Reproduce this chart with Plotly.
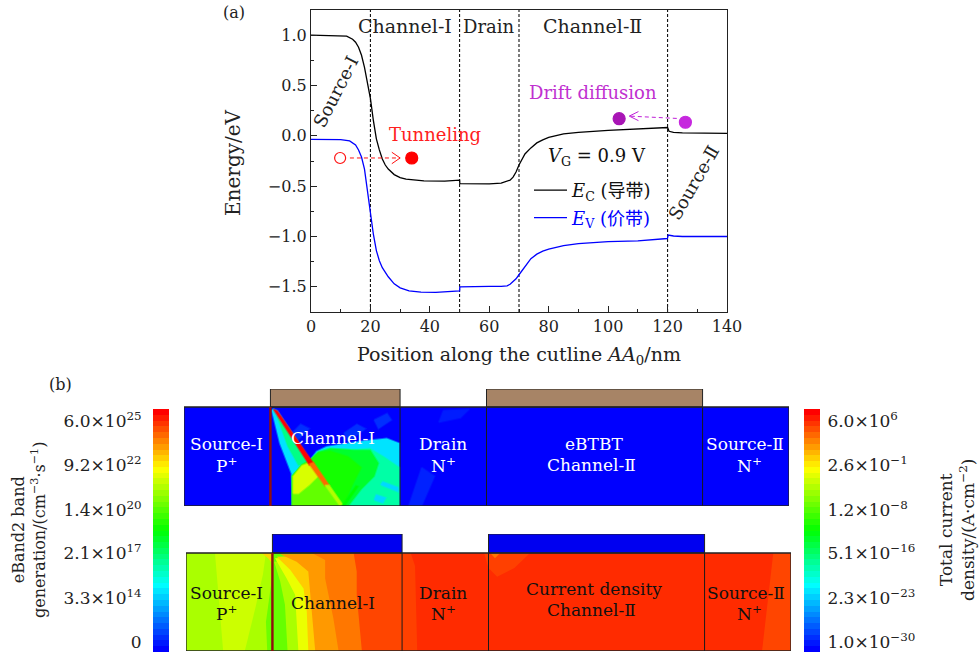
import plotly.graph_objects as go
from plotly.colors import sample_colorscale

W, H = 980, 657
SERIF = "'DejaVu Serif','Noto Sans CJK SC',serif"
INK = "#222222"

# ---------- panel (a): band diagram ----------
ec_x = [0,10,12,14,15,16,17,18,19,20,21,22,23,24,25,26,28,30,32,35,38,45,49.9,50,50.1,55,60,64,66,67,68,69,70,71,72,74,76,78,80,85,90,100,110,115,119.9,120,120.5,122,125,130,140]
ec_y = [1.0,.995,.99,.96,.93,.88,.80,.68,.54,.37,.15,-.03,-.14,-.23,-.29,-.33,-.385,-.415,-.43,-.44,-.447,-.45,-.447,-.44,-.475,-.475,-.478,-.47,-.455,-.44,-.41,-.36,-.29,-.23,-.18,-.12,-.07,-.04,-.015,.02,.035,.055,.07,.075,.088,.083,.045,.035,.03,.027,.025]
ev_x = [0,10,13,15,16,17,18,19,20,21,22,23,24,25,26,28,30,33,37,42,49.9,50,50.1,55,60,64,66,67,68,69,70,71,72,73,74,76,78,80,85,90,100,110,115,119.9,120,120.2,122,125,140]
ev_y = [-.035,-.038,-.05,-.09,-.14,-.21,-.33,-.55,-.76,-.98,-1.14,-1.24,-1.31,-1.36,-1.40,-1.47,-1.51,-1.54,-1.553,-1.555,-1.545,-1.54,-1.50,-1.495,-1.495,-1.495,-1.49,-1.475,-1.45,-1.42,-1.38,-1.34,-1.29,-1.25,-1.22,-1.175,-1.145,-1.126,-1.09,-1.07,-1.05,-1.043,-1.035,-1.02,-1.015,-.985,-.995,-1.0,-1.0]
region_edges = [20, 50, 70, 120]

tunnel_x, tunnel_y = [13.1, 30], [-.22, -.22]
tunnel_head_x, tunnel_head_y = [27.2, 30, 27.2], [-.163, -.22, -.277]
tunnel_open, tunnel_full = (9.8, -.22), (33.9, -.22)
drift_x, drift_y = [123.1, 107.1], [.173, .196]
drift_head_x, drift_head_y = [110.2, 107.1, 110.2], [.241, .196, .151]
drift_full, drift_light = (103.7, .17), (126, .135)

# ---------- panel (b): device maps, coordinates in nm, levels are colour-bar fractions ----------
device_edges = [0, 20, 50, 70, 120, 140]
gate_spans = [(20, 50), (70, 120)]
bar_levels = [i / 41 for i in range(42)]

left_ticks = ["6.0×10<sup>25</sup>", "9.2×10<sup>22</sup>", "1.4×10<sup>20</sup>", "2.1×10<sup>17</sup>", "3.3×10<sup>14</sup>", "0"]
right_ticks = ["6.0×10<sup>6</sup>", "2.6×10<sup>−1</sup>", "1.2×10<sup>−8</sup>", "5.1×10<sup>−16</sup>", "2.3×10<sup>−23</sup>", "1.0×10<sup>−30</sup>"]
tick_fractions = [.951, .770, .584, .407, .222, .041]

# upper map (eBand2 generation)
top_base = (0.0, [0, 140, 140, 0], [0, 0, 22.9, 22.9])
top_patches = [
    (0.035, [55, 58, 55, 52], [14, 16, 22.9, 22.9]),
    (0.03, [60, 66, 64, 59], [.8, .5, 2.5, 3.5]),
    (0.05, [25, 27, 29, 26], [6, 4, 5, 8]),
    (0.05, [37, 40, 42, 38], [6, 4, 5, 8]),
    (0.05, [44, 47, 48, 45], [3, 1.5, 3, 5]),
    (0.24, [20.3, 22.2, 24.9, 25.1, 49.8, 49.8, 46.9, 40.8, 33, 30.7, 29.2, 21.6, 20.7],
           [.7, 8.4, 15.4, 22.9, 22.9, 8.4, 7.3, 8, 9.2, 10.3, 12.3, .9, .5]),
    (0.38, [21.5, 24, 26.5, 29, 25], [2, 9, 13.5, 13, 7]),
    (0.35, [25.1, 25.1, 27.3, 29.2, 31.1, 33.8, 40, 43, 46.2, 48.5, 49.8, 49.8],
           [22.9, 16, 13.4, 12.3, 10.4, 9.6, 9.8, 9.6, 11.5, 13, 14, 22.9]),
    (0.23, [44, 46, 46.7, 44.5], [21.5, 22.2, 21, 20.3]),
    (0.23, [45.5, 49.6, 49.6, 46], [18, 19.6, 18.6, 17.3]),
    (0.46, [25.1, 25.1, 27.3, 29.2, 31.1, 33.8, 39.2, 43.1, 45, 44, 41, 38],
           [22.9, 16, 13.4, 12.3, 10.4, 9.6, 10, 10, 13, 16, 19, 22.9]),
    (0.52, [25.1, 25.1, 27.3, 29.2, 31.1, 33.8, 38, 41, 39, 36.9],
           [22.9, 16, 13.4, 12.3, 10.6, 10.2, 11.5, 14, 18, 22.9]),
    (0.60, [25.1, 25.1, 27.3, 29.2, 33.4, 36.9], [22.9, 16, 13.4, 12.5, 18, 22.9]),
    (0.72, [25.3, 25.3, 27.3, 29.0, 31, 29, 26.5], [20, 16.1, 13.6, 13, 16, 18, 20]),
    (1.0,  [20.7, 21.6, 29.95, 29], [.54, .93, 13, 13.4]),
    (0.90, [29, 29.95, 33.6, 32.65], [13.2, 12.8, 18.1, 18.3]),
    (0.68, [32.65, 33.6, 36.9, 36.1], [18.1, 18.1, 22.9, 22.9]),
    (0.50, [36.5, 37.2, 40.3, 39.8], [22.9, 22.9, 18.4, 18.2]),
]

# lower map (total current density)
low_patches = [
    (0.673, [0, 20, 20, 0], [0, 0, 22.7, 22.7]),
    (0.708, [6.7, 18.5, 17.8, 16, 13.6, 8.6], [0, 0, 5, 13, 22.7, 22.7]),
    (0.61,  [20, 19.3, 18.5, 18.8, 20], [5, 10, 16, 22.7, 22.7]),
    (0.80,  [17.5, 20, 20, 19], [0, 0, 2.5, 1.2]),
    (0.604, [20, 50, 50, 20], [0, 0, 22.7, 22.7]),
    (0.673, [20.4, 21.8, 22.9, 23.15, 23.5, 50, 50], [2, 6.6, 12, 18.2, 22.7, 22.7, 0]),
    (0.74,  [20.6, 23.3, 25.25, 25.6, 26, 50, 50], [1.2, 5.9, 9.7, 15.1, 22.7, 22.7, 0]),
    (0.808, [21, 24.1, 27.2, 27.95, 28.3, 50, 50], [.85, 3.9, 8.2, 13.6, 22.7, 22.7, 0]),
    (0.856, [21.8, 25.6, 28.3, 29.1, 29.9, 50, 50], [.3, 2, 4.3, 13.6, 22.7, 22.7, 0]),
    (0.888, [29.1, 32.2, 32.2, 34.1, 35.3, 50, 50], [0, 1.6, 5.9, 15.1, 22.7, 22.7, 0]),
    (0.935, [38.8, 39.5, 39.5, 40.7, 50, 50], [0, 4.3, 9.7, 22.7, 22.7, 0]),
    (0.96,  [50, 140, 140, 50], [0, 0, 22.7, 22.7]),
    (0.94,  [50, 52, 53, 53.5, 50], [0, 0, 3, 22.7, 22.7]),
    (0.94,  [69, 79.6, 76, 72, 70], [0, 0, 3.5, 5.5, 3.5]),
    (0.89,  [70.4, 72.7, 71.5], [0, 0, 1.2]),
    (0.935, [135.9, 140, 140, 133.3], [0, 0, 22.7, 22.7]),
]

RAINBOW = [[0, "#0000ff"], [.27, "#00ffff"], [.5, "#00ff00"], [.76, "#ffff00"], [1, "#ff0000"]]


def dom_x(l, r):
    return [l / W, r / W]


def dom_y(t, b):
    return [1 - b / H, 1 - t / H]


fig = go.Figure()


def line(x, y, color, width=1.2, dash=None, xa="x", ya="y", name=None, legend=False, group=None):
    fig.add_trace(go.Scatter(x=x, y=y, mode="lines", line=dict(color=color, width=width, dash=dash),
                             xaxis=xa, yaxis=ya, name=name, showlegend=legend, legendgroup=group,
                             hoverinfo="skip", cliponaxis=False))


def dot(pt, symbol, color, size):
    fig.add_trace(go.Scatter(x=[pt[0]], y=[pt[1]], mode="markers", showlegend=False, hoverinfo="skip",
                             marker=dict(symbol=symbol, color=color, size=size, line=dict(color=color, width=1.2)),
                             xaxis="x", yaxis="y"))


for e in region_edges:
    line([e, e], [-1.75, 1.25], "#111111", 1.1, "3px,2px")
line(ec_x, ec_y, "#000000", 1.3, name="<i>E</i><sub>C</sub> (导带)", legend=True, group="c")
line(ev_x, ev_y, "#0000ff", 1.3, name='<span style="color:#0000ff"><i>E</i><sub>V</sub> (价带)</span>', legend=True, group="v")
line(tunnel_x, tunnel_y, "#ff1010", 1, "4px,3px")
line(tunnel_head_x, tunnel_head_y, "#ff1010", 1)
line(drift_x, drift_y, "#c020d8", 1, "4px,3px")
line(drift_head_x, drift_head_y, "#c020d8", 1)
dot(tunnel_open, "circle-open", "#ff1010", 11)
dot(tunnel_full, "circle", "#ff0000", 12)
dot(drift_full, "circle", "#a815b5", 12)
dot(drift_light, "circle", "#c628de", 12)


def paint(patches, xa, ya, soft=0):
    for level, xs, ys in patches:
        c = sample_colorscale(RAINBOW, [level])[0]
        edge = c.replace("rgb(", "rgba(").replace(")", ",0.45)")
        fig.add_trace(go.Scatter(x=xs + xs[:1], y=ys + ys[:1], mode="lines", fill="toself", fillcolor=c,
                                 line=dict(width=soft, color=edge), xaxis=xa, yaxis=ya,
                                 showlegend=False, hoverinfo="skip"))


def device(xa, ya, depth, top, gate_color):
    for a, b in gate_spans:
        fig.add_trace(go.Scatter(x=[a, b, b, a, a], y=[0, 0, top, top, 0], mode="lines", fill="toself",
                                 fillcolor=gate_color, line=dict(color="#222222", width=1),
                                 xaxis=xa, yaxis=ya, showlegend=False, hoverinfo="skip", cliponaxis=False))
    for e in device_edges[1:-1]:
        line([e, e], [0, depth], "#1a1a1a", 1, xa=xa, ya=ya)
    line([0, 140, 140, 0, 0], [0, 0, depth, depth, 0], "#222222", 1.3, xa=xa, ya=ya)
    line([20, 20], [0, depth], "#8f0f0f", 2.4, xa=xa, ya=ya)


paint([top_base], "x2", "y2")
paint(top_patches, "x2", "y2", soft=2)
device("x2", "y2", 22.9, -4.17, "#a78466")
paint(low_patches, "x3", "y3")
device("x3", "y3", 22.7, -4.4, "#0000f0")

for xa, ya in (("x4", "y4"), ("x5", "y5")):
    fig.add_trace(go.Heatmap(z=[[v] for v in bar_levels],
                             y=[(i + .5) / len(bar_levels) for i in range(len(bar_levels))],
                             x=[0], zmin=0, zmax=1, colorscale=RAINBOW, showscale=False,
                             xaxis=xa, yaxis=ya, hoverinfo="skip"))

hidden = dict(visible=False, fixedrange=True)
tick_font = dict(family=SERIF, size=16, color=INK)
bar_font = dict(family=SERIF, size=17, color=INK)
fig.update_layout(
    width=W, height=H, margin=dict(l=0, r=0, t=0, b=0, autoexpand=False), paper_bgcolor="white", plot_bgcolor="white",
    font=dict(family=SERIF, size=15, color=INK),
    showlegend=True,
    legend=dict(x=529 / W, y=1 - 172 / H, xanchor="left", yanchor="top", bgcolor="rgba(0,0,0,0)",
                font=dict(family=SERIF, size=18, color="#111111"), tracegroupgap=1, itemwidth=33),
    xaxis=dict(domain=dom_x(311, 727), range=[0, 140], anchor="y", dtick=20, tick0=0, ticks="inside", ticklen=6,
               showline=True, mirror=True, linecolor=INK, linewidth=1.2, tickcolor=INK, showgrid=False, zeroline=False,
               minor=dict(dtick=10, ticks="inside", ticklen=3, tickcolor=INK), tickfont=tick_font, automargin=False),
    yaxis=dict(domain=dom_y(10, 312), range=[-1.75, 1.25], anchor="x", dtick=.5, tick0=0, ticks="inside", ticklen=6,
               tickformat=".1f", showline=True, mirror=True, linecolor=INK, linewidth=1.2, tickcolor=INK,
               showgrid=False, zeroline=False, minor=dict(dtick=.25, ticks="inside", ticklen=3, tickcolor=INK),
               tickfont=tick_font, automargin=False),
    xaxis2=dict(domain=dom_x(184, 789), range=[0, 140], anchor="y2", **hidden),
    yaxis2=dict(domain=dom_y(389, 506), range=[22.9, -4.17], anchor="x2", **hidden),
    xaxis3=dict(domain=dom_x(186, 791), range=[0, 140], anchor="y3", **hidden),
    yaxis3=dict(domain=dom_y(534, 651), range=[22.7, -4.4], anchor="x3", **hidden),
    xaxis4=dict(domain=dom_x(153, 169), anchor="y4", **hidden),
    yaxis4=dict(domain=dom_y(409, 652), range=[0, 1], anchor="x4", side="left", tickmode="array", tickvals=tick_fractions,
                ticktext=left_ticks, ticks="outside", ticklen=7, tickcolor="rgba(0,0,0,0)", showgrid=False,
                zeroline=False, showline=False, tickfont=bar_font, fixedrange=True, automargin=False),
    xaxis5=dict(domain=dom_x(804, 820), anchor="y5", **hidden),
    yaxis5=dict(domain=dom_y(409, 652), range=[0, 1], anchor="x5", side="right", tickmode="array", tickvals=tick_fractions,
                ticktext=right_ticks, ticks="outside", ticklen=3, tickcolor="rgba(0,0,0,0)", showgrid=False,
                zeroline=False, showline=False, tickfont=bar_font, fixedrange=True, automargin=False),
)


def note(px, py, text, color=INK, size=18, angle=0):
    fig.add_annotation(x=px / W, y=1 - py / H, xref="paper", yref="paper", text=text, showarrow=False,
                       xanchor="center", yanchor="middle", textangle=angle,
                       font=dict(family=SERIF, size=size, color=color))


note(234, 12, "(a)", size=16)
note(60, 384, "(b)", size=16)
note(233, 163, "Energy/eV", size=20, angle=-90)
note(519, 355, "Position along the cutline <i>AA</i><sub>0</sub>/nm", size=19)
note(405, 26, "Channel-Ⅰ", size=19)
note(489, 26, "Drain")
note(592, 26, "Channel-Ⅱ", size=19)
note(335, 92, "Source-Ⅰ", angle=-63)
note(694, 183, "Source-Ⅱ", angle=-60)
note(435, 135, "Tunneling", "#ff2020")
note(593, 92, "Drift diffusion", "#c030d0")
note(597, 157, "<i>V</i><sub>G</sub> = 0.9 V", "#111111")

for px, py, t in [(226, 444, "Source-Ⅰ"), (226, 465, "P<sup>+</sup>"), (333, 438, "Channel-Ⅰ"), (443, 444, "Drain"),
                  (443, 465, "N<sup>+</sup>"), (594, 444, "eBTBT"), (591, 465, "Channel-Ⅱ"), (745, 444, "Source-Ⅱ"),
                  (749, 465, "N<sup>+</sup>")]:
    note(px, py, t, "#ffffff", 17)
for px, py, t in [(226, 593, "Source-Ⅰ"), (226, 613, "P<sup>+</sup>"), (333, 603, "Channel-Ⅰ"), (443, 593, "Drain"),
                  (443, 613, "N<sup>+</sup>"), (594, 589, "Current density"), (591, 610, "Channel-Ⅱ"),
                  (746, 593, "Source-Ⅱ"), (749, 613, "N<sup>+</sup>")]:
    note(px, py, t, "#111111", 17)
note(29, 530, "eBand2 band<br>generation/(cm<sup>−3</sup>·s<sup>−1</sup>)", size=16, angle=-90)
note(957, 530, "Total current<br>density/(A·cm<sup>−2</sup>)", size=17, angle=-90)

fig.write_html("out.html", config=dict(displayModeBar=False),
               post_script="document.body.style.margin='0';document.body.style.overflow='hidden';")
